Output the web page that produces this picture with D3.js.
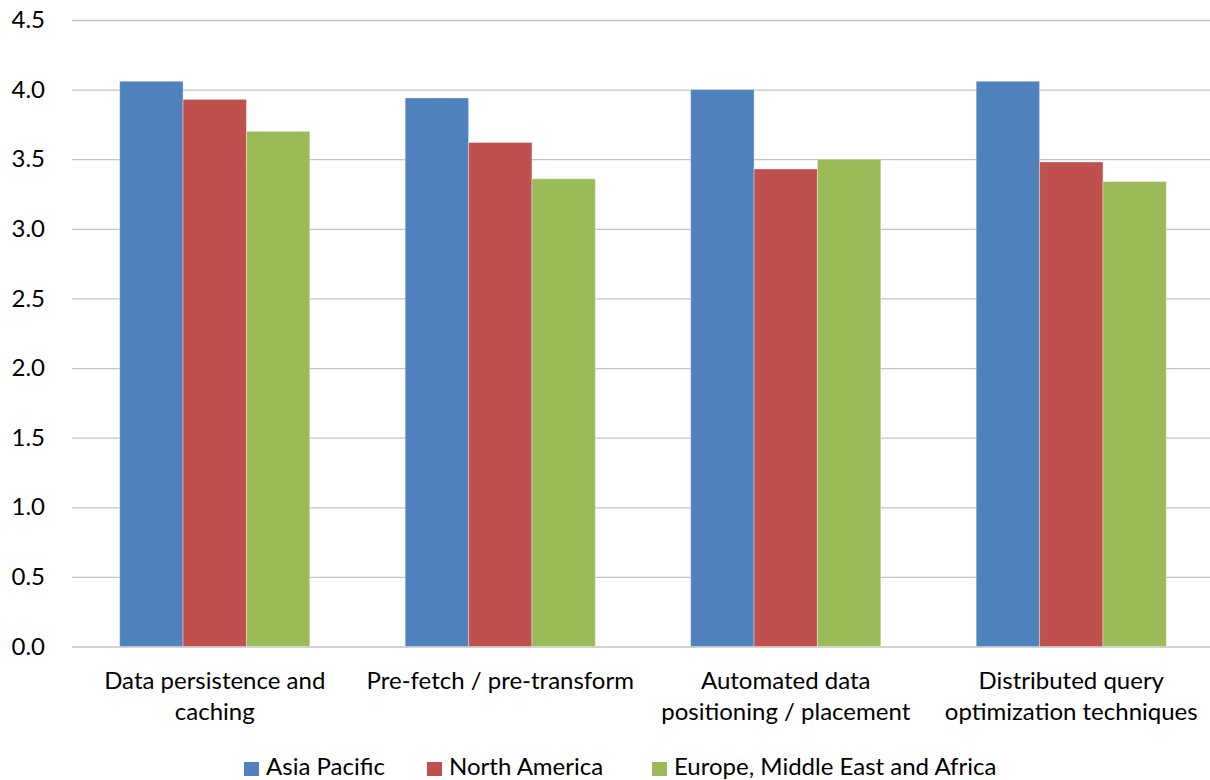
<!DOCTYPE html>
<html>
<head>
<meta charset="utf-8">
<script src="https://cdn.jsdelivr.net/npm/d3@7"></script>
<style>
  html, body { margin: 0; padding: 0; background: #fff; }
  svg { display: block; font-family: Lato, "Open Sans", sans-serif; }
</style>
</head>
<body>
<svg id="chart" width="1210" height="780"></svg>
<script>
// Survey scores by capability and region
const categories = [
  ["Data persistence and", "caching"],
  ["Pre-fetch / pre-transform"],
  ["Automated data", "positioning / placement"],
  ["Distributed query", "optimization techniques"]
];
const seriesNames = ["Asia Pacific", "North America", "Europe, Middle East and Africa"];
const asiaPacific = [4.06, 3.94, 4.00, 4.06];
const northAmerica = [3.93, 3.62, 3.43, 3.48];
const emea = [3.70, 3.36, 3.50, 3.34];
const yTicks = [0, 0.5, 1.0, 1.5, 2.0, 2.5, 3.0, 3.5, 4.0, 4.5];
const colors = ["#4f81bd", "#c0504d", "#9bbb59"];

const seriesValues = [asiaPacific, northAmerica, emea];

const svg = d3.select("#chart");
const margin = { left: 72, right: -4, top: 20, bottom: 134 };
const W = 1210, H = 780;
const FS = 24;

const y = d3.scaleLinear().domain([0, 4.5]).range([H - margin.bottom + 0.5, margin.top]);
const x0 = d3.scaleBand().domain(d3.range(categories.length))
  .range([margin.left, W - margin.right]).paddingInner(0.334).paddingOuter(0.167);
const x1 = d3.scaleBand().domain(d3.range(seriesNames.length)).range([0, x0.bandwidth()]);

// Gridlines
const grid = svg.append("g")
  .attr("transform", `translate(${margin.left},0)`)
  .call(d3.axisLeft(y).tickValues(yTicks).tickSize(-(W - margin.left)).tickFormat(""));
grid.select(".domain").remove();
grid.selectAll(".tick line").attr("stroke", "#c3c3c3").attr("stroke-width", 1.3);

// Y tick labels
const yAxis = svg.append("g")
  .attr("transform", `translate(${margin.left},0)`)
  .call(d3.axisLeft(y).tickValues(yTicks).tickSize(0).tickPadding(27).tickFormat(d3.format(".1f")));
yAxis.select(".domain").remove();
yAxis.selectAll("text").attr("font-size", FS).attr("fill", "#000")
  .attr("font-family", "Lato, 'Open Sans', sans-serif");

// Bars
const groups = svg.append("g").selectAll("g")
  .data(categories.map((c, i) => i))
  .join("g")
  .attr("transform", i => `translate(${x0(i)},0)`);

groups.selectAll("rect")
  .data(i => seriesValues.map((vals, s) => ({ s, v: vals[i] })))
  .join("rect")
  .attr("x", d => x1(d.s))
  .attr("width", x1.bandwidth())
  .attr("y", d => y(d.v))
  .attr("height", d => y(0) - y(d.v))
  .attr("fill", d => colors[d.s])
  .attr("stroke", "rgba(255,255,255,0.35)")
  .attr("stroke-width", 1);

// Category labels
const xLabels = svg.append("g");
categories.forEach((lines, i) => {
  const cx = x0(i) + x0.bandwidth() / 2;
  const t = xLabels.append("text")
    .attr("x", cx)
    .attr("y", 689)
    .attr("text-anchor", "middle")
    .attr("font-size", FS)
    .attr("fill", "#000");
  lines.forEach((ln, k) => {
    t.append("tspan").attr("x", cx).attr("dy", k === 0 ? 0 : 31).text(ln);
  });
});

// Legend
const legend = svg.append("g");
const legendX = [244, 427, 652];
seriesNames.forEach((name, s) => {
  legend.append("rect").attr("x", legendX[s]).attr("y", 762).attr("width", 15).attr("height", 14).attr("fill", colors[s]);
  legend.append("text").attr("x", legendX[s] + 22).attr("y", 775)
    .attr("font-size", FS).attr("fill", "#000").text(name);
});
</script>
</body>
</html>
